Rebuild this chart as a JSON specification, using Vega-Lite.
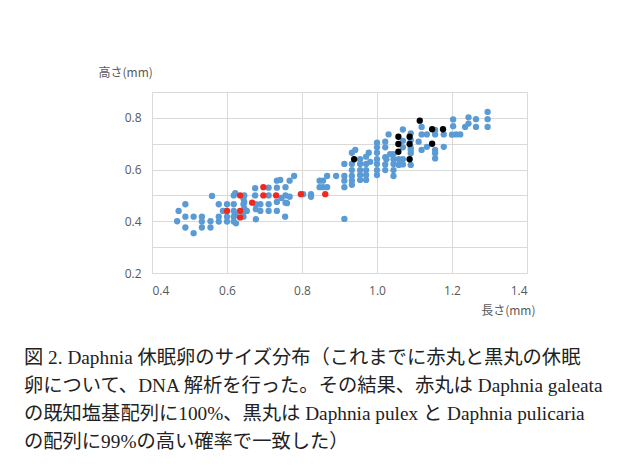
{
  "$schema": "https://vega.github.io/schema/vega-lite/v6.json",
  "width": 375,
  "height": 181,
  "autosize": "none",
  "padding": {"left": 152, "top": 92, "right": 94, "bottom": 196},
  "background": "white",
  "config": {
    "view": {"stroke": "#d9d9d9", "strokeWidth": 1},
    "axis": {
      "labelFont": "Open Sans",
      "labelFontSize": 12,
      "labelColor": "#595959",
      "titleFont": "Noto Sans CJK JP",
      "titleFontSize": 12,
      "titleFontWeight": "normal",
      "titleColor": "#595959",
      "gridColor": "#d9d9d9",
      "gridWidth": 1,
      "ticks": false,
      "domain": false
    }
  },
  "title": {
    "text": [
      "図 2.  Daphnia 休眠卵のサイズ分布（これまでに赤丸と黒丸の休眠",
      "卵について、DNA 解析を行った。その結果、赤丸は Daphnia galeata",
      "の既知塩基配列に100%、黒丸は Daphnia pulex と Daphnia pulicaria",
      "の配列に99%の高い確率で一致した）"
    ],
    "orient": "bottom",
    "anchor": "start",
    "frame": "group",
    "dx": -128,
    "offset": 33,
    "baseline": "top",
    "font": "Liberation Serif, Noto Sans CJK JP",
    "fontSize": 19.3,
    "fontWeight": "normal",
    "lineHeight": 28,
    "color": "#222222"
  },
  "data": {
    "values": [
      {"x":0.467,"y":0.40,"g":"b"},{"x":0.471,"y":0.44,"g":"b"},{"x":0.489,"y":0.466,"g":"b"},{"x":0.489,"y":0.418,"g":"b"},{"x":0.489,"y":0.376,"g":"b"},
      {"x":0.511,"y":0.418,"g":"b"},{"x":0.511,"y":0.354,"g":"b"},
      {"x":0.533,"y":0.418,"g":"b"},{"x":0.533,"y":0.399,"g":"b"},{"x":0.533,"y":0.376,"g":"b"},
      {"x":0.556,"y":0.40,"g":"b"},{"x":0.556,"y":0.376,"g":"b"},{"x":0.56,"y":0.498,"g":"b"},
      {"x":0.578,"y":0.466,"g":"b"},{"x":0.578,"y":0.418,"g":"b"},{"x":0.578,"y":0.399,"g":"b"},
      {"x":0.589,"y":0.44,"g":"b"},
      {"x":0.60,"y":0.466,"g":"b"},{"x":0.60,"y":0.418,"g":"b"},{"x":0.60,"y":0.399,"g":"b"},
      {"x":0.618,"y":0.50,"g":"b"},{"x":0.618,"y":0.466,"g":"b"},{"x":0.618,"y":0.44,"g":"b"},{"x":0.618,"y":0.418,"g":"b"},{"x":0.618,"y":0.399,"g":"b"},
      {"x":0.622,"y":0.509,"g":"b"},{"x":0.624,"y":0.392,"g":"b"},{"x":0.622,"y":0.425,"g":"b"},
      {"x":0.644,"y":0.487,"g":"b"},{"x":0.644,"y":0.466,"g":"b"},{"x":0.646,"y":0.44,"g":"b"},{"x":0.644,"y":0.418,"g":"b"},{"x":0.646,"y":0.50,"g":"b"},{"x":0.646,"y":0.475,"g":"b"},{"x":0.646,"y":0.45,"g":"b"},
      {"x":0.653,"y":0.44,"g":"b"},
      {"x":0.675,"y":0.528,"g":"b"},{"x":0.675,"y":0.50,"g":"b"},{"x":0.677,"y":0.466,"g":"b"},{"x":0.677,"y":0.447,"g":"b"},{"x":0.677,"y":0.408,"g":"b"},
      {"x":0.689,"y":0.466,"g":"b"},{"x":0.689,"y":0.44,"g":"b"},
      {"x":0.711,"y":0.53,"g":"b"},{"x":0.711,"y":0.50,"g":"b"},{"x":0.711,"y":0.466,"g":"b"},{"x":0.711,"y":0.44,"g":"b"},
      {"x":0.733,"y":0.557,"g":"b"},{"x":0.733,"y":0.53,"g":"b"},{"x":0.733,"y":0.475,"g":"b"},{"x":0.733,"y":0.44,"g":"b"},
      {"x":0.742,"y":0.56,"g":"b"},{"x":0.745,"y":0.49,"g":"b"},
      {"x":0.756,"y":0.532,"g":"b"},{"x":0.756,"y":0.50,"g":"b"},{"x":0.756,"y":0.472,"g":"b"},{"x":0.755,"y":0.418,"g":"b"},
      {"x":0.767,"y":0.557,"g":"b"},{"x":0.767,"y":0.495,"g":"b"},{"x":0.76,"y":0.47,"g":"b"},
      {"x":0.779,"y":0.575,"g":"b"},{"x":0.803,"y":0.505,"g":"b"},{"x":0.824,"y":0.505,"g":"b"},{"x":0.824,"y":0.495,"g":"b"},
      {"x":0.847,"y":0.557,"g":"b"},{"x":0.847,"y":0.532,"g":"b"},{"x":0.856,"y":0.557,"g":"b"},{"x":0.856,"y":0.532,"g":"b"},
      {"x":0.867,"y":0.575,"g":"b"},{"x":0.867,"y":0.532,"g":"b"},{"x":0.891,"y":0.575,"g":"b"},
      {"x":0.913,"y":0.622,"g":"b"},{"x":0.913,"y":0.575,"g":"b"},{"x":0.913,"y":0.557,"g":"b"},{"x":0.913,"y":0.532,"g":"b"},{"x":0.913,"y":0.409,"g":"b"},
      {"x":0.933,"y":0.665,"g":"b"},{"x":0.933,"y":0.622,"g":"b"},{"x":0.933,"y":0.598,"g":"b"},{"x":0.933,"y":0.575,"g":"b"},{"x":0.933,"y":0.557,"g":"b"},{"x":0.933,"y":0.541,"g":"b"},
      {"x":0.942,"y":0.676,"g":"b"},
      {"x":0.955,"y":0.64,"g":"b"},{"x":0.955,"y":0.622,"g":"b"},{"x":0.955,"y":0.598,"g":"b"},{"x":0.955,"y":0.579,"g":"b"},{"x":0.955,"y":0.56,"g":"b"},
      {"x":0.971,"y":0.65,"g":"b"},{"x":0.971,"y":0.622,"g":"b"},{"x":0.971,"y":0.598,"g":"b"},{"x":0.971,"y":0.579,"g":"b"},{"x":0.971,"y":0.56,"g":"b"},
      {"x":0.978,"y":0.665,"g":"b"},{"x":0.982,"y":0.63,"g":"b"},
      {"x":1.0,"y":0.704,"g":"b"},{"x":1.0,"y":0.686,"g":"b"},{"x":1.0,"y":0.665,"g":"b"},{"x":1.0,"y":0.64,"g":"b"},{"x":1.0,"y":0.622,"g":"b"},{"x":1.0,"y":0.598,"g":"b"},{"x":1.0,"y":0.579,"g":"b"},
      {"x":1.022,"y":0.708,"g":"b"},{"x":1.022,"y":0.686,"g":"b"},{"x":1.022,"y":0.648,"g":"b"},{"x":1.022,"y":0.62,"g":"b"},{"x":1.022,"y":0.598,"g":"b"},{"x":1.025,"y":0.64,"g":"b"},
      {"x":1.031,"y":0.736,"g":"b"},{"x":1.035,"y":0.66,"g":"b"},
      {"x":1.044,"y":0.66,"g":"b"},{"x":1.044,"y":0.64,"g":"b"},{"x":1.044,"y":0.622,"g":"b"},{"x":1.044,"y":0.598,"g":"b"},{"x":1.044,"y":0.575,"g":"b"},
      {"x":1.058,"y":0.64,"g":"b"},{"x":1.058,"y":0.618,"g":"b"},
      {"x":1.069,"y":0.755,"g":"b"},{"x":1.069,"y":0.711,"g":"b"},{"x":1.069,"y":0.686,"g":"b"},{"x":1.069,"y":0.64,"g":"b"},{"x":1.069,"y":0.62,"g":"b"},
      {"x":1.09,"y":0.74,"g":"b"},{"x":1.09,"y":0.714,"g":"b"},{"x":1.09,"y":0.676,"g":"b"},{"x":1.09,"y":0.663,"g":"b"},{"x":1.09,"y":0.618,"g":"b"},{"x":1.09,"y":0.685,"g":"b"},
      {"x":1.111,"y":0.708,"g":"b"},
      {"x":1.119,"y":0.765,"g":"b"},{"x":1.119,"y":0.736,"g":"b"},{"x":1.119,"y":0.676,"g":"b"},
      {"x":1.133,"y":0.736,"g":"b"},{"x":1.133,"y":0.688,"g":"b"},
      {"x":1.155,"y":0.753,"g":"b"},{"x":1.155,"y":0.736,"g":"b"},{"x":1.155,"y":0.676,"g":"b"},{"x":1.155,"y":0.663,"g":"b"},{"x":1.155,"y":0.643,"g":"b"},
      {"x":1.178,"y":0.736,"g":"b"},{"x":1.178,"y":0.688,"g":"b"},
      {"x":1.2,"y":0.735,"g":"b"},{"x":1.203,"y":0.794,"g":"b"},{"x":1.203,"y":0.768,"g":"b"},
      {"x":1.211,"y":0.736,"g":"b"},{"x":1.222,"y":0.736,"g":"b"},
      {"x":1.235,"y":0.765,"g":"b"},{"x":1.244,"y":0.778,"g":"b"},{"x":1.244,"y":0.802,"g":"b"},
      {"x":1.264,"y":0.795,"g":"b"},{"x":1.264,"y":0.765,"g":"b"},
      {"x":1.295,"y":0.823,"g":"b"},{"x":1.295,"y":0.795,"g":"b"},{"x":1.295,"y":0.765,"g":"b"},
      {"x":0.60,"y":0.44,"g":"r"},{"x":0.635,"y":0.50,"g":"r"},{"x":0.635,"y":0.44,"g":"r"},{"x":0.635,"y":0.415,"g":"r"},{"x":0.667,"y":0.472,"g":"r"},
      {"x":0.697,"y":0.532,"g":"r"},{"x":0.697,"y":0.50,"g":"r"},{"x":0.731,"y":0.50,"g":"r"},{"x":0.797,"y":0.505,"g":"r"},{"x":0.862,"y":0.505,"g":"r"},
      {"x":0.939,"y":0.64,"g":"k"},{"x":1.057,"y":0.727,"g":"k"},{"x":1.057,"y":0.699,"g":"k"},{"x":1.057,"y":0.669,"g":"k"},
      {"x":1.087,"y":0.727,"g":"k"},{"x":1.087,"y":0.699,"g":"k"},{"x":1.087,"y":0.64,"g":"k"},
      {"x":1.114,"y":0.789,"g":"k"},{"x":1.147,"y":0.756,"g":"k"},{"x":1.147,"y":0.70,"g":"k"},{"x":1.176,"y":0.756,"g":"k"}
    ]
  },
  "mark": {"type": "circle", "size": 40, "opacity": 1},
  "encoding": {
    "x": {
      "field": "x", "type": "quantitative",
      "scale": {"domain": [0.4, 1.4], "nice": false, "zero": false},
      "axis": {
        "values": [0.4, 0.6, 0.8, 1.0, 1.2, 1.4],
        "format": ".1f",
        "labelPadding": 12,
        "title": "長さ(mm)",
        "titleAlign": "right",
        "titleBaseline": "middle",
        "titleX": 383,
        "titleY": 37,
        "titleAnchor": null
      }
    },
    "y": {
      "field": "y", "type": "quantitative",
      "scale": {"domain": [0.2, 0.9], "nice": false, "zero": false},
      "axis": {
        "values": [0.2, 0.3, 0.4, 0.5, 0.6, 0.7, 0.8, 0.9],
        "labelExpr": "round(datum.value*10) % 2 == 0 ? format(datum.value, '.1f') : ''",
        "labelPadding": 11,
        "title": "高さ(mm)",
        "titleAngle": 0,
        "titleAlign": "left",
        "titleBaseline": "middle",
        "titleX": -54,
        "titleY": -20
      }
    },
    "color": {
      "field": "g", "type": "nominal",
      "scale": {"domain": ["b", "r", "k"], "range": ["#5b9bd5", "#f0281e", "#000000"]},
      "legend": null
    }
  }
}
